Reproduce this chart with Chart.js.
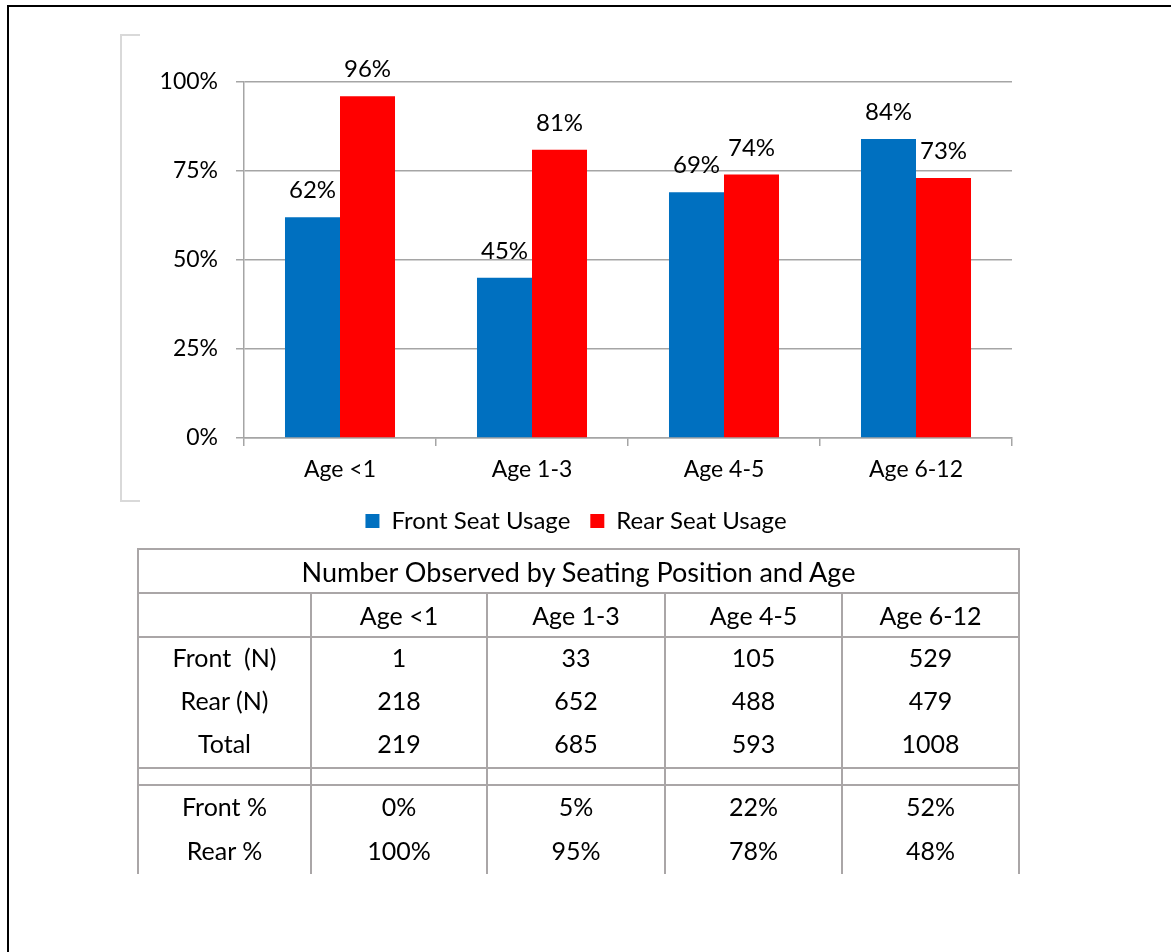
<!DOCTYPE html>
<html>
<head>
<meta charset="utf-8">
<script src="https://cdn.jsdelivr.net/npm/chart.js@4"></script>
<style>
  body { margin: 0; background: #fff; font-family: Lato, "Open Sans", sans-serif; }
  #frame { position: absolute; left: 7px; top: 5px; width: 1200px; height: 1000px;
           border-left: 2px solid #000; border-top: 2px solid #000; }
  #bracket { position: absolute; left: 120px; top: 34px; width: 18px; height: 464px;
             border-left: 2px solid #d9d9d9; border-top: 2px solid #d9d9d9; border-bottom: 2px solid #d9d9d9; }
  #wrap { position: absolute; left: 140px; top: 30px; width: 900px; height: 523px; }
  table { position: absolute; left: 137px; top: 548px; border-collapse: collapse;
          font-family: Lato, sans-serif; font-size: 25px; color: #000; }
  td { border-left: 2px solid #aaa6a7; border-right: 2px solid #aaa6a7; text-align: center;
       padding: 0 0 5px 0; height: 38px; }
  tr.title td { border-top: 2px solid #aaa6a7; border-bottom: 2px solid #aaa6a7; height: 42px; padding: 0; font-size: 27px; }
  tr.head td { border-bottom: 2px solid #aaa6a7; height: 42px; padding: 0; }
  tr.gap td { border-bottom: 2px solid #aaa6a7; border-top: 2px solid #aaa6a7; height: 15px; padding: 0; }
  tr.pct td { height: 39px; }
</style>
</head>
<body>
<div id="frame"></div>
<div id="bracket"></div>
<div id="wrap"><canvas id="seat-chart"></canvas></div>
<table id="obs">
  <colgroup>
    <col style="width:173px"><col style="width:176px"><col style="width:178px"><col style="width:177px"><col style="width:177px">
  </colgroup>
</table>
<script>
var ageGroups = ['Age <1', 'Age 1-3', 'Age 4-5', 'Age 6-12'];
var frontUsage = [62, 45, 69, 84];
var rearUsage = [96, 81, 74, 73];
var yTicks = [0, 25, 50, 75, 100];

var tableTitle = 'Number Observed by Seating Position and Age';
var frontN = [1, 33, 105, 529];
var rearN = [218, 652, 488, 479];
var totalN = [219, 685, 593, 1008];
var frontPct = ['0%', '5%', '22%', '52%'];
var rearPct = ['100%', '95%', '78%', '48%'];

// values printed over the bars
var barLabels = {
    id: 'barLabels',
    afterDatasetsDraw: function(chart) {
        var ctx = chart.ctx;
        ctx.save();
        ctx.font = '24px Lato';
        ctx.fillStyle = '#000';
        ctx.textAlign = 'center';
        ctx.textBaseline = 'alphabetic';
        chart.data.datasets.forEach(function(ds, i) {
            chart.getDatasetMeta(i).data.forEach(function(bar, j) {
                ctx.fillText(ds.data[j] + '%', bar.x, bar.y - 19);
            });
        });
        ctx.restore();
    }
};

var gridGray = '#a5a5a5';

var ctx = document.getElementById('seat-chart').getContext('2d');
var seatChart = new Chart(ctx, {
    type: 'bar',
    data: {
        labels: ageGroups,
        datasets: [{
            label: 'Front Seat Usage',
            data: frontUsage,
            backgroundColor: '#0070c0',
            categoryPercentage: 0.573,
            barPercentage: 1.0
        }, {
            label: 'Rear Seat Usage',
            data: rearUsage,
            backgroundColor: '#ff0000',
            categoryPercentage: 0.573,
            barPercentage: 1.0
        }]
    },
    options: {
        responsive: true,
        maintainAspectRatio: false,
        animation: false,
        layout: { padding: { top: 52, right: 28, bottom: 10, left: 0 } },
        plugins: {
            legend: {
                position: 'bottom',
                labels: {
                    font: { family: 'Lato', size: 24 },
                    color: '#000',
                    boxWidth: 14,
                    boxHeight: 14,
                    padding: 20
                }
            },
            tooltip: { enabled: false }
        },
        scales: {
            x: {
                grid: { drawOnChartArea: false, color: gridGray, lineWidth: 1.5, tickLength: 8 },
                border: { color: gridGray, width: 1.5 },
                ticks: { font: { family: 'Lato', size: 23 }, color: '#000', padding: 10 },
                afterFit: function(scale) { scale.height = 51; }
            },
            y: {
                min: 0,
                max: 100,
                afterBuildTicks: function(scale) {
                    scale.ticks = yTicks.map(function(v) { return { value: v }; });
                },
                grid: { color: gridGray, lineWidth: 1.5, tickLength: 8 },
                border: { color: gridGray, width: 1.5 },
                ticks: {
                    font: { family: 'Lato', size: 23 },
                    color: '#000',
                    padding: 18,
                    callback: function(v) { return v + '%'; }
                },
                afterFit: function(scale) { scale.width = 104; }
            }
        }
    },
    plugins: [barLabels]
});

// observation table
function addRow(cls, cells) {
    var tr = document.createElement('tr');
    if (cls) tr.className = cls;
    cells.forEach(function(c) {
        var td = document.createElement('td');
        if (c && c.span) { td.colSpan = c.span; td.textContent = c.text; }
        else td.textContent = c;
        tr.appendChild(td);
    });
    document.getElementById('obs').appendChild(tr);
}
addRow('title', [{ span: 5, text: tableTitle }]);
addRow('head', [''].concat(ageGroups));
addRow('', ['Front\u00a0 (N)'].concat(frontN));
addRow('', ['Rear (N)'].concat(rearN));
addRow('', ['Total'].concat(totalN));
addRow('gap', ['', '', '', '', '']);
addRow('pct', ['Front %'].concat(frontPct));
addRow('pct', ['Rear %'].concat(rearPct));
</script>
</body>
</html>
